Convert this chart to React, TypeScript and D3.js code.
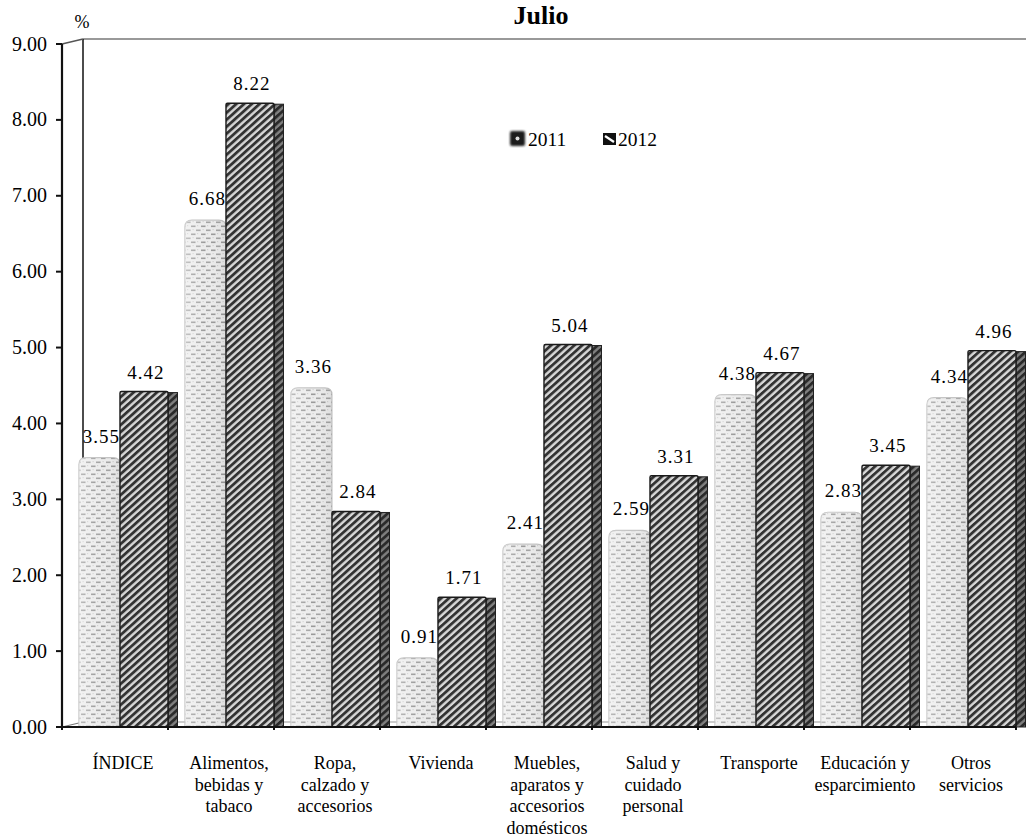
import React from "react";
import * as d3 from "d3";

const categories: string[][] = [
  ["ÍNDICE"],
  ["Alimentos,", "bebidas y", "tabaco"],
  ["Ropa,", "calzado y", "accesorios"],
  ["Vivienda"],
  ["Muebles,", "aparatos y", "accesorios", "domésticos"],
  ["Salud y", "cuidado", "personal"],
  ["Transporte"],
  ["Educación y", "esparcimiento"],
  ["Otros", "servicios"],
];
// bar heights as drawn in the picture
const values2011: number[] = [3.55, 6.68, 4.47, 0.91, 2.41, 2.59, 4.38, 2.83, 4.34];
const values2012: number[] = [4.42, 8.22, 2.84, 1.71, 5.04, 3.31, 4.67, 3.45, 4.96];
// data labels as printed in the picture
const labels2011: string[] = ["3.55", "6.68", "3.36", "0.91", "2.41", "2.59", "4.38", "2.83", "4.34"];
const labels2012: string[] = ["4.42", "8.22", "2.84", "1.71", "5.04", "3.31", "4.67", "3.45", "4.96"];
const yTicks: number[] = [0, 1, 2, 3, 4, 5, 6, 7, 8, 9];
const seriesNames: string[] = ["2011", "2012"];
const title = "Julio";

const W = 1026;
const H = 837;
const FONT = '"Liberation Serif", "Times New Roman", Times, serif';

export default function App() {
  const keys = categories.map((c) => c.join(" "));
  const x = d3.scaleBand<string>().domain(keys).range([62, 1016]).padding(0);
  const y = d3.scaleLinear().domain([0, 9]).range([727, 44]);
  const bw = x.bandwidth();
  const off2011 = bw * 0.16;
  const w2011 = bw * 0.387;
  const off2012 = off2011 + w2011;
  const w2012 = bw * 0.453;
  const side = 9.5;
  const backX = 83;
  const backTop = 39;
  const floorBack = 722;

  const roundTop = (x0: number, w: number, top: number, bottom: number, r: number) =>
    `M${x0},${bottom} L${x0},${top + r} Q${x0},${top} ${x0 + r},${top} L${x0 + w - r},${top} Q${x0 + w},${top} ${x0 + w},${top + r} L${x0 + w},${bottom} Z`;

  return (
    <svg
      width={W}
      height={H}
      style={{ position: "absolute", left: 0, top: 0, display: "block", background: "#fff", fontFamily: FONT }}
    >
      <defs>
        <pattern id="dots2011" patternUnits="userSpaceOnUse" width="10" height="8">
          <rect width="10" height="8" fill="#ececec" />
          <rect x="1" y="1.5" width="4.5" height="1.6" fill="#9a9a9a" />
          <rect x="6" y="5.5" width="4" height="1.6" fill="#a4a4a4" />
          <rect x="0" y="5.5" width="0.6" height="1.6" fill="#a4a4a4" />
          <rect x="7" y="1" width="1.2" height="1.2" fill="#d0d0d0" />
          <rect x="2.5" y="5" width="1.2" height="1.2" fill="#d0d0d0" />
        </pattern>
        <linearGradient id="shade2011" x1="0" x2="1" y1="0" y2="0">
          <stop offset="0" stopColor="#ffffff" stopOpacity="0.35" />
          <stop offset="0.5" stopColor="#ffffff" stopOpacity="0" />
          <stop offset="1" stopColor="#000000" stopOpacity="0.06" />
        </linearGradient>
        <pattern id="hatch2012" patternUnits="userSpaceOnUse" width="5.2" height="5.2" patternTransform="rotate(-42)">
          <rect width="5.2" height="5.2" fill="#d8d8d8" />
          <rect y="0" width="5.2" height="2.8" fill="#333" />
        </pattern>
        <pattern id="hatchSide" patternUnits="userSpaceOnUse" width="5.2" height="5.2" patternTransform="rotate(-42)">
          <rect width="5.2" height="5.2" fill="#808080" />
          <rect y="0" width="5.2" height="2.8" fill="#2a2a2a" />
        </pattern>
        <filter id="blur1" x="-30%" y="-30%" width="160%" height="160%">
          <feGaussianBlur stdDeviation="0.9" />
        </filter>
      </defs>

      {/* title and unit */}
      <text x={541} y={24} textAnchor="middle" fontWeight="bold" fontSize={26}>
        {title}
      </text>
      <text x={82} y={28} textAnchor="middle" fontSize={18}>
        %
      </text>

      {/* back walls */}
      <line x1={backX} y1={backTop} x2={W} y2={backTop} stroke="#777" strokeWidth={1.6} />
      <line x1={backX} y1={backTop} x2={backX} y2={floorBack} stroke="#111" strokeWidth={1.5} />
      <line x1={62} y1={y(9)} x2={backX} y2={backTop} stroke="#555" strokeWidth={1.4} />
      <line x1={backX} y1={floorBack} x2={W} y2={floorBack} stroke="#999" strokeWidth={1.2} />
      <line x1={62} y1={y(0)} x2={backX} y2={floorBack} stroke="#777" strokeWidth={1.2} />

      {/* bars */}
      {keys.map((k, i) => {
        const b0 = x(k)!;
        const x1 = b0 + off2011;
        const x2 = b0 + off2012;
        const t1 = y(values2011[i]);
        const t2 = y(values2012[i]);
        const bottom = y(0);
        return (
          <g key={k}>
            <path d={roundTop(x1, w2011, t1, bottom, 7)} fill="url(#dots2011)" stroke="#c4c4c4" strokeWidth={1.2} />
            <path d={roundTop(x1, w2011, t1, bottom, 7)} fill="url(#shade2011)" />
            <rect x={x2 + w2012} y={t2 + 1} width={side} height={bottom - t2 - 1} fill="url(#hatchSide)" stroke="#222" strokeWidth={1} />
            <rect x={x2} y={t2} width={w2012} height={bottom - t2} fill="url(#hatch2012)" stroke="#1a1a1a" strokeWidth={1.4} rx={1.5} />
            <text x={x1 + w2011 / 2 + 2} y={t1 - 15} textAnchor="middle" fontSize={19} letterSpacing={1}>
              {labels2011[i]}
            </text>
            <text x={x2 + w2012 / 2 + 2} y={t2 - 13} textAnchor="middle" fontSize={19} letterSpacing={1}>
              {labels2012[i]}
            </text>
          </g>
        );
      })}

      {/* x axis */}
      <line x1={62} y1={y(0)} x2={1016} y2={y(0)} stroke="#111" strokeWidth={2} />
      {d3.range(keys.length + 1).map((j) => (
        <line key={j} x1={62 + j * bw} y1={y(0)} x2={62 + j * bw} y2={y(0) + 3} stroke="#111" strokeWidth={2} />
      ))}

      {/* y axis */}
      <line x1={62} y1={y(0)} x2={62} y2={y(9)} stroke="#111" strokeWidth={2.2} />
      {yTicks.map((t) => (
        <g key={t}>
          <line x1={56} y1={y(t)} x2={62} y2={y(t)} stroke="#111" strokeWidth={2} />
          <text x={47} y={y(t) + 6.5} textAnchor="end" fontSize={20}>
            {t.toFixed(2)}
          </text>
        </g>
      ))}

      {/* category labels */}
      {categories.map((lines, i) => (
        <text key={i} textAnchor="middle" fontSize={18}>
          {lines.map((ln, j) => (
            <tspan key={j} x={x(keys[i])! + bw / 2 + 8} y={769 + j * 21.5}>
              {ln}
            </tspan>
          ))}
        </text>
      ))}

      {/* legend */}
      <g>
        <rect x={510} y={131} width={15} height={15} fill="#1a1a1a" rx={2} filter="url(#blur1)" />
        <circle cx={517.5} cy={138.5} r={2} fill="#ddd" />
        <text x={528} y={146} fontSize={19.5}>
          {seriesNames[0]}
        </text>
        <rect x={603} y={133} width={13} height={12} fill="#111" />
        <path d="M605,136 L614,142" stroke="#fff" strokeWidth={2.2} />
        <text x={618} y={146} fontSize={19.5}>
          {seriesNames[1]}
        </text>
      </g>
    </svg>
  );
}
